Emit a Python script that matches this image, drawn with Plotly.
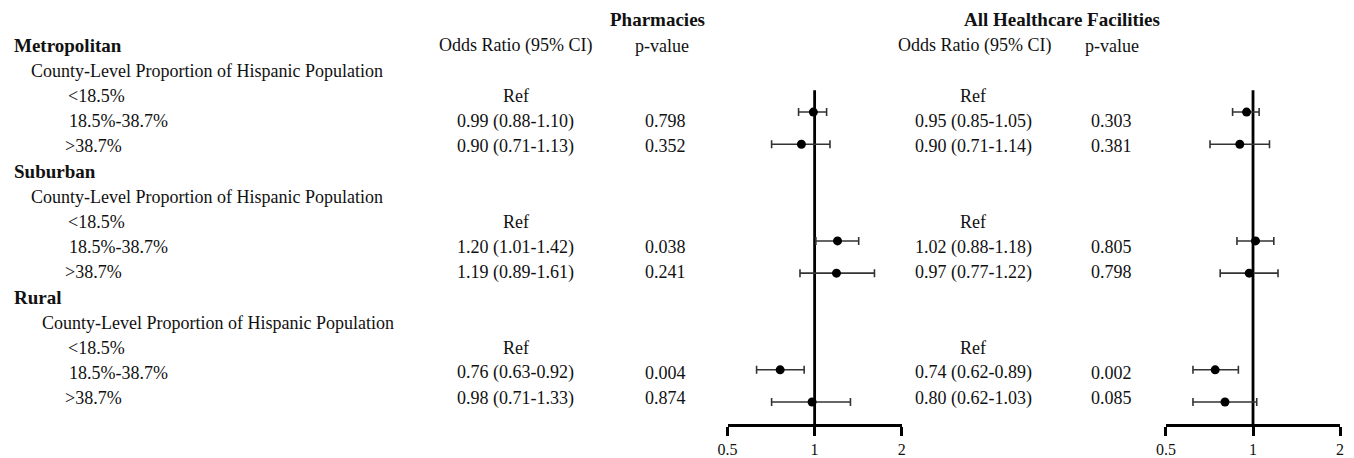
import math
import plotly.graph_objects as go

# the page body has an 8px margin; the figure fills the rest of the window
OFF = 8
W, H = 1354 - OFF, 458 - OFF

# ---------------- data ----------------
groups = ["Metropolitan", "Suburban", "Rural"]
subheader = "County-Level Proportion of Hispanic Population"
levels = ["<18.5%", "18.5%-38.7%", ">38.7%"]

pharm_or = [0.99, 0.90, 1.20, 1.19, 0.76, 0.98]
pharm_lo = [0.88, 0.71, 1.01, 0.89, 0.63, 0.71]
pharm_hi = [1.10, 1.13, 1.42, 1.61, 0.92, 1.33]
pharm_p = ["0.798", "0.352", "0.038", "0.241", "0.004", "0.874"]

all_or = [0.95, 0.90, 1.02, 0.97, 0.74, 0.80]
all_lo = [0.85, 0.71, 0.88, 0.77, 0.62, 0.62]
all_hi = [1.05, 1.14, 1.18, 1.22, 0.89, 1.03]
all_p = ["0.303", "0.381", "0.805", "0.798", "0.002", "0.085"]

x_tickvals = [0.5, 1, 2]
x_ticktext = ["0.5", "1", "2"]

# ---------------- helpers ----------------
FONT = "Liberation Serif, Times New Roman, serif"
BLACK = "#111111"


def px(x):
    return (x - OFF) / W


def py(y):
    return 1 - (y - OFF) / H


def row_y(k):
    return 46 + 25.4 * k


def fmt_or(o, l, h):
    return f"{o:.2f} ({l:.2f}-{h:.2f})"


# marker slots: 4 slots per group, non-reference levels in the first two
slots = [4 * g + j for g in range(len(groups)) for j in range(2)]

fig = go.Figure()

err_style = dict(type="data", symmetric=False, color="#333333", thickness=1.6, width=4)

fig.add_trace(go.Scatter(
    x=pharm_or, y=slots, mode="markers", xaxis="x", yaxis="y",
    marker=dict(size=9, color="black"),
    error_x=dict(array=[h - o for o, h in zip(pharm_or, pharm_hi)],
                 arrayminus=[o - l for o, l in zip(pharm_or, pharm_lo)], **err_style),
    showlegend=False, hoverinfo="skip"))

fig.add_trace(go.Scatter(
    x=all_or, y=slots, mode="markers", xaxis="x2", yaxis="y",
    marker=dict(size=9, color="black"),
    error_x=dict(array=[h - o for o, h in zip(all_or, all_hi)],
                 arrayminus=[o - l for o, l in zip(all_or, all_lo)], **err_style),
    showlegend=False, hoverinfo="skip"))

axis_common = dict(
    type="log", range=[math.log10(0.5), math.log10(2)],
    showline=True, linewidth=2.6, linecolor="black",
    ticks="outside", ticklen=9, tickwidth=2.6, tickcolor="black",
    tickvals=x_tickvals, ticktext=x_ticktext,
    tickfont=dict(family=FONT, size=16, color=BLACK),
    showgrid=False, zeroline=False, anchor="y", fixedrange=True,
)

fig.update_layout(
    width=W, height=H,
    margin=dict(l=0, r=0, t=0, b=0),
    paper_bgcolor="white", plot_bgcolor="white",
    xaxis=dict(domain=[px(725), px(901)], **axis_common),
    xaxis2=dict(domain=[px(1168), px(1344)], **axis_common),
    yaxis=dict(domain=[py(428), py(91)], range=[9.69, -0.677],
               visible=False, showgrid=False, zeroline=False),
    font=dict(family=FONT, color=BLACK),
)

# reference lines at OR = 1
for xr in ["x", "x2"]:
    fig.add_shape(type="line", xref=xr, yref="y domain", x0=1, x1=1, y0=0, y1=1,
                  line=dict(color="black", width=2.8), layer="below")

ann = []
SHIFT = {"left": -10, "center": -4}


def text(x, y, s, anchor="left", bold=False, size=18):
    ann.append(dict(x=px(x + SHIFT[anchor]), y=py(y), xref="paper", yref="paper",
                    text=f"<b>{s}</b>" if bold else s, showarrow=False,
                    xanchor=anchor, yanchor="middle",
                    font=dict(family=FONT, size=19 if bold else size, color=BLACK)))


# panel headers
text(658, 20, "Pharmacies", "center", bold=True)
text(1067, 20, "All Healthcare Facilities", "center", bold=True)
text(515, row_y(0), "Odds Ratio (95% CI)", "center")
text(663, row_y(0), "p-value", "center")
text(979, row_y(0), "Odds Ratio (95% CI)", "center")
text(1117, row_y(0), "p-value", "center")

sub_x = [29, 29, 40]
lvl_x = [67, 68, 63]
for g, name in enumerate(groups):
    base = 5 * g
    text(12, row_y(base), name, bold=True)
    text(sub_x[g], row_y(base + 1), subheader)
    for i, lv in enumerate(levels):
        k = base + 2 + i
        text(lvl_x[i], row_y(k), lv)
        if i == 0:
            text(515, row_y(k), "Ref", "center")
            text(977, row_y(k), "Ref", "center")
        else:
            idx = 2 * g + (i - 1)
            text(515, row_y(k), fmt_or(pharm_or[idx], pharm_lo[idx], pharm_hi[idx]), "center")
            text(666, row_y(k), pharm_p[idx], "center")
            text(978, row_y(k), fmt_or(all_or[idx], all_lo[idx], all_hi[idx]), "center")
            text(1117, row_y(k), all_p[idx], "center")

fig.update_layout(annotations=ann)

fig.write_html("out.html")
